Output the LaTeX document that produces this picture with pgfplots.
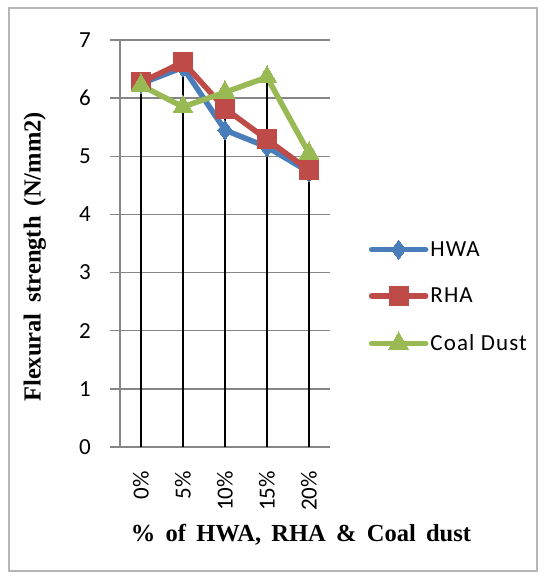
\documentclass[border=0pt]{standalone}
\usepackage{fontspec}
\setmainfont{Liberation Serif}
\newfontfamily\calfont{Carlito}
\newfontfamily\legfont[LetterSpace=5]{Carlito}
\newcommand\labfont{\fontsize{24.5}{24.5}\selectfont\spaceskip=0.42em plus 0.1em\relax}
\usepackage{pgfplots}
\pgfplotsset{compat=1.18}
\definecolor{hwa}{HTML}{4A7EBB}
\definecolor{rha}{HTML}{BE4B48}
\definecolor{coal}{HTML}{98B954}
\definecolor{gridgray}{HTML}{868686}
\begin{document}
\begin{tikzpicture}[x=1pt,y=1pt]
\useasboundingbox (0,0) rectangle (545,579);
\draw[gridgray!60, line width=1.2pt] (9,8) rectangle (537,571);
\begin{axis}[at={(120pt,132pt)}, anchor=south west, scale only axis,
  width=210pt, height=407pt,
  xmin=-0.5, xmax=4.5, ymin=0, ymax=7,
  ytick={0,...,7}, xtick={0,...,4},
  xticklabels={0\%,5\%,10\%,15\%,20\%},
  axis x line*=bottom, axis y line*=left,
  axis line style={gridgray, line width=1.5pt},
  ymajorgrids, major grid style={gridgray, line width=1.5pt},
  ytick style={gridgray, line width=1.5pt}, major tick length=10pt, tick align=outside,
  xtick style={draw=none},
  /pgf/number format/assume math mode=true,
  ticklabel style={font=\calfont\fontsize{23}{23}\selectfont},
  yticklabel style={inner sep=0pt, xshift=-19pt},
  xticklabel style={rotate=90, anchor=east, inner sep=0pt, xshift=-14pt},
  xlabel={\bfseries\% of HWA, RHA \& Coal dust},
  ylabel={\bfseries Flexural strength (N/mm2)},
  label style={font=\labfont},
  xlabel style={at={(axis description cs:0.862,-0.216)}, anchor=center},
  ylabel style={at={(axis description cs:-0.405,0.467)}, anchor=center, rotate=0},
  legend style={draw=none, fill=none, at={(axis description cs:1.17,0.369)}, anchor=west,
    font=\legfont\fontsize{23}{23}\selectfont, row sep=26pt},
  legend cell align=left,
  legend image code/.code={\draw[mark repeat=2, mark phase=2, #1] plot coordinates {(0pt,0pt) (27pt,0pt) (54pt,0pt)};},
  every axis plot/.append style={line width=5.5pt, line join=round, line cap=round},
  clip=false,
]
\addplot[hwa, mark=diamond*, mark size=9.5pt, mark options={line width=0pt}] coordinates {(0,6.25) (1,6.53) (2,5.45) (3,5.16) (4,4.73)};
\addlegendentry{HWA}
\addplot[rha, mark=square*, mark size=9.5pt, mark options={line width=0pt}] coordinates {(0,6.27) (1,6.62) (2,5.82) (3,5.29) (4,4.76)};
\addlegendentry{RHA}
\addplot[coal, mark=triangle*, mark size=11.5pt, mark options={line width=0pt}] coordinates {(0,6.22) (1,5.85) (2,6.10) (3,6.36) (4,5.05)};
\addlegendentry{Coal Dust}
\addplot[black, ycomb, line width=2pt, line cap=butt, forget plot] coordinates {(0,6.25) (1,6.6) (2,6.1) (3,6.36) (4,5.03)};
\end{axis}
\end{tikzpicture}
\end{document}
